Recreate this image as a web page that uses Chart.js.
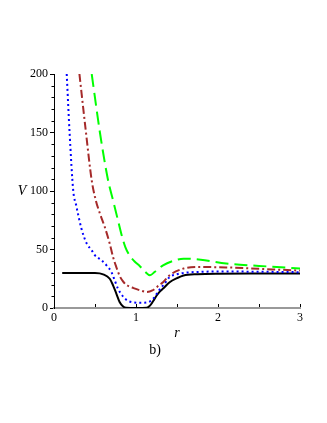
<!DOCTYPE html>
<html>
<head>
<meta charset="utf-8">
<script src="https://cdn.jsdelivr.net/npm/chart.js@4.4.0/dist/chart.umd.min.js"></script>
<style>
  html, body { margin: 0; padding: 0; background: #fff; }
  #wrap { width: 327px; height: 423px; }
</style>
</head>
<body>
<div id="wrap"><canvas id="potential-chart" width="327" height="423"></canvas></div>
<script>
// Radius values (r) and potential (V)
const blackR = [0.1, 0.3, 0.5, 0.6, 0.68, 0.72, 0.76, 0.8, 0.84, 0.88, 1.0, 1.13, 1.17, 1.21, 1.25, 1.29, 1.33, 1.41, 1.5, 1.58, 1.75, 2.0, 2.5, 3.0];
const blackV = [30, 30, 29.9, 28.8, 25, 19.4, 12.3, 5.1, 1.5, 0.2, 0, 0.2, 2, 6, 10.5, 14, 16.6, 22, 25.5, 27.8, 28.9, 29.3, 29.4, 29.4];

const blueR = [0.155, 0.19, 0.235, 0.27, 0.3, 0.33, 0.36, 0.4, 0.46, 0.5, 0.58, 0.64, 0.7, 0.74, 0.78, 0.83, 0.89, 0.95, 1.05, 1.15, 1.21, 1.27, 1.35, 1.41, 1.5, 1.58, 1.75, 2.0, 2.5, 3.0];
const blueV = [200, 150, 100, 88, 78, 69, 62, 55, 49.3, 45, 40.8, 36.5, 30.8, 23.7, 16.6, 10.9, 6.6, 5, 4.5, 5, 8, 14, 21, 26.5, 28.8, 30, 30.8, 31.2, 31, 30.6];

const brownR = [0.31, 0.39, 0.46, 0.51, 0.56, 0.62, 0.68, 0.72, 0.76, 0.8, 0.85, 0.9, 0.97, 1.05, 1.13, 1.2, 1.29, 1.33, 1.41, 1.58, 1.75, 2.1, 2.5, 3.0];
const brownV = [200, 150, 109, 92, 80.7, 69, 55, 43.6, 35, 27.5, 22, 19, 17, 15.1, 13.7, 15, 20, 22, 28, 33.7, 35, 34.7, 33.5, 32];

const greenR = [0.46, 0.56, 0.66, 0.72, 0.78, 0.83, 0.87, 0.92, 0.98, 1.05, 1.11, 1.17, 1.23, 1.33, 1.45, 1.58, 1.79, 2.1, 2.5, 3.0];
const greenV = [200, 150, 109, 92, 75, 61, 52, 45, 40, 35.5, 31, 28, 31, 36.5, 40.2, 42.2, 41.3, 38, 36, 33.7];

const xTickValues = [0, 1, 2, 3];
const yTickValues = [0, 50, 100, 150, 200];

// Build {x, y} points for a series
function toPoints(rs, vs) {
    return rs.map(function(r, i) { return { x: r, y: vs[i] }; });
}

function makeSeries(rs, vs, color, dash) {
    return {
        data: toPoints(rs, vs),
        borderColor: color,
        borderWidth: 2,
        borderDash: dash,
        pointRadius: 0,
        fill: false,
        cubicInterpolationMode: 'monotone'
    };
}

const serif = '"Liberation Serif", "DejaVu Serif", serif';

// Minor ticks, upward x ticks and free text labels
const axisExtras = {
    id: 'axisExtras',
    afterDraw: function(chart) {
        const ctx = chart.ctx;
        const xs = chart.scales.x;
        const ys = chart.scales.y;
        const area = chart.chartArea;
        ctx.save();
        ctx.strokeStyle = '#000';
        ctx.lineWidth = 1;
        // y minor ticks every 10
        for (let v = 0; v <= 200; v += 10) {
            if (v % 50 === 0) continue;
            const py = Math.round(ys.getPixelForValue(v)) + 0.5;
            ctx.beginPath();
            ctx.moveTo(area.left - 2.5, py);
            ctx.lineTo(area.left, py);
            ctx.stroke();
        }
        // x ticks every 0.5, pointing up
        for (let r = 0.5; r <= 3; r += 0.5) {
            const px = Math.round(xs.getPixelForValue(r)) + 0.5;
            ctx.beginPath();
            ctx.moveTo(px, area.bottom - 1);
            ctx.lineTo(px, area.bottom - 4);
            ctx.stroke();
        }
        ctx.fillStyle = '#000';
        ctx.textAlign = 'center';
        ctx.textBaseline = 'middle';
        ctx.font = 'italic 14px ' + serif;
        ctx.fillText('V', 22, ys.getPixelForValue(100));
        ctx.font = '14px ' + serif;
        ctx.fillText('b)', 155, 350);
        ctx.restore();
    }
};

const ctx = document.getElementById('potential-chart').getContext('2d');

const potentialChart = new Chart(ctx, {
    type: 'line',
    data: {
        datasets: [
            makeSeries(greenR, greenV, '#00ff00', [13, 6]),
            makeSeries(brownR, brownV, '#a52a2a', [8, 3, 2, 3]),
            makeSeries(blueR, blueV, '#0000ff', [2, 3]),
            makeSeries(blackR, blackV, '#000000', [])
        ]
    },
    plugins: [axisExtras],
    options: {
        responsive: false,
        animation: false,
        layout: {
            padding: { left: 0, top: 74, right: 27, bottom: 81 }
        },
        plugins: {
            legend: { display: false },
            tooltip: { enabled: false }
        },
        scales: {
            x: {
                type: 'linear',
                min: 0,
                max: 3,
                afterFit: function(scale) { scale.height = 34; },
                afterBuildTicks: function(scale) {
                    scale.ticks = xTickValues.map(function(v) { return { value: v }; });
                },
                grid: { display: false, drawTicks: false, tickLength: 0 },
                border: { color: '#999999', width: 2 },
                ticks: {
                    color: '#000',
                    padding: 3,
                    maxRotation: 0,
                    font: { family: serif, size: 12 }
                },
                title: {
                    display: true,
                    text: 'r',
                    color: '#000',
                    padding: 0,
                    font: { family: serif, size: 14, style: 'italic' }
                }
            },
            y: {
                type: 'linear',
                min: 0,
                max: 200,
                afterFit: function(scale) { scale.width = 54; },
                afterBuildTicks: function(scale) {
                    scale.ticks = yTickValues.map(function(v) { return { value: v }; });
                },
                grid: {
                    drawOnChartArea: false,
                    drawTicks: true,
                    tickLength: 4,
                    color: '#000'
                },
                border: { color: '#000', width: 1 },
                ticks: {
                    color: '#000',
                    padding: 2,
                    font: { family: serif, size: 12 }
                }
            }
        }
    }
});
</script>
</body>
</html>
